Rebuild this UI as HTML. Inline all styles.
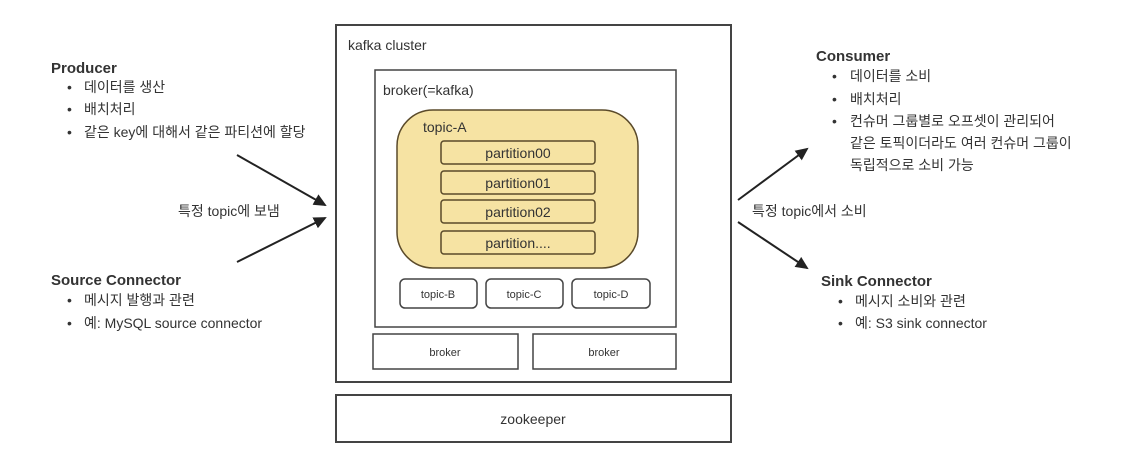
<!DOCTYPE html>
<html><head><meta charset="utf-8"><style>
html,body{margin:0;padding:0;background:#fff;}
svg text{font-family:"Liberation Sans","Noto Sans CJK KR",sans-serif;fill:#333;}
</style></head><body>
<svg width="1130" height="458" viewBox="0 0 1130 458" xmlns="http://www.w3.org/2000/svg">
<defs><marker id="a" markerWidth="14" markerHeight="14" refX="11" refY="6" orient="auto" markerUnits="userSpaceOnUse"><path d="M0,0 L13,6 L0,12 z" fill="#222"/></marker></defs>
<g fill="none" stroke="#444" stroke-width="2">
<rect x="336" y="25" width="395" height="357"/>
<rect x="375" y="70" width="301" height="257" stroke-width="1.5"/>
<rect x="397" y="110" width="241" height="158" rx="36" fill="#f6e3a3" stroke="#5a4a2a" stroke-width="1.5"/>
<rect x="441" y="141" width="154" height="23" rx="3" stroke="#5a4a2a" stroke-width="1.5"/>
<rect x="441" y="171" width="154" height="23" rx="3" stroke="#5a4a2a" stroke-width="1.5"/>
<rect x="441" y="200" width="154" height="23" rx="3" stroke="#5a4a2a" stroke-width="1.5"/>
<rect x="441" y="231" width="154" height="23" rx="3" stroke="#5a4a2a" stroke-width="1.5"/>
<rect x="400" y="279" width="77" height="29" rx="5" stroke-width="1.5"/>
<rect x="486" y="279" width="77" height="29" rx="5" stroke-width="1.5"/>
<rect x="572" y="279" width="78" height="29" rx="5" stroke-width="1.5"/>
<rect x="373" y="334" width="145" height="35" stroke-width="1.5"/>
<rect x="533" y="334" width="143" height="35" stroke-width="1.5"/>
<rect x="336" y="395" width="395" height="47"/>
</g>
<g stroke="#222" stroke-width="2" marker-end="url(#a)">
<line x1="237" y1="155" x2="325" y2="205"/>
<line x1="237" y1="262" x2="325" y2="218"/>
<line x1="738" y1="200" x2="807" y2="149"/>
<line x1="738" y1="222" x2="807" y2="268"/>
</g>
<g font-size="14">
<text x="348" y="50">kafka cluster</text>
<text x="383" y="95">broker(=kafka)</text>
<text x="423" y="132">topic-A</text>
<text x="518" y="158" text-anchor="middle">partition00</text>
<text x="518" y="188" text-anchor="middle">partition01</text>
<text x="518" y="217" text-anchor="middle">partition02</text>
<text x="518" y="248" text-anchor="middle">partition....</text>
<text x="533" y="424" text-anchor="middle">zookeeper</text>
</g>
<g font-size="11">
<text x="438" y="298" text-anchor="middle">topic-B</text>
<text x="524" y="298" text-anchor="middle">topic-C</text>
<text x="611" y="298" text-anchor="middle">topic-D</text>
<text x="445" y="356" text-anchor="middle">broker</text>
<text x="604" y="356" text-anchor="middle">broker</text>
</g>
<g font-size="14">
<text x="51" y="73" font-weight="bold" font-size="15" fill="#222">Producer</text>
<text x="67" y="92">•</text><text x="84" y="92">데이터를 생산</text>
<text x="67" y="114">•</text><text x="84" y="114">배치처리</text>
<text x="67" y="137">•</text><text x="84" y="137">같은 key에 대해서 같은 파티션에 할당</text>
<text x="178" y="216">특정 topic에 보냄</text>
<text x="51" y="285" font-weight="bold" font-size="15" fill="#222">Source Connector</text>
<text x="67" y="305">•</text><text x="84" y="305">메시지 발행과 관련</text>
<text x="67" y="328">•</text><text x="84" y="328">예: MySQL source connector</text>
<text x="816" y="61" font-weight="bold" font-size="15" fill="#222">Consumer</text>
<text x="832" y="81">•</text><text x="850" y="81">데이터를 소비</text>
<text x="832" y="104">•</text><text x="850" y="104">배치처리</text>
<text x="832" y="126">•</text><text x="850" y="126">컨슈머 그룹별로 오프셋이 관리되어</text>
<text x="850" y="148">같은 토픽이더라도 여러 컨슈머 그룹이</text>
<text x="850" y="170">독립적으로 소비 가능</text>
<text x="752" y="216">특정 topic에서 소비</text>
<text x="821" y="286" font-weight="bold" font-size="15" fill="#222">Sink Connector</text>
<text x="838" y="306">•</text><text x="855" y="306">메시지 소비와 관련</text>
<text x="838" y="328">•</text><text x="855" y="328">예: S3 sink connector</text>
</g>
</svg>
</body></html>
